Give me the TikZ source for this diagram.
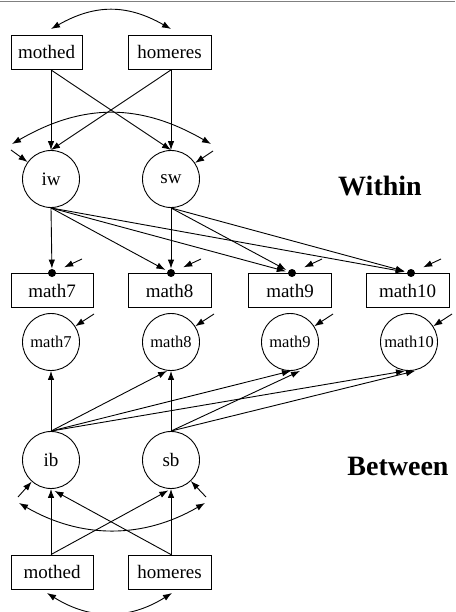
\documentclass[tikz,border=0pt]{standalone}
\usepackage{fontspec}
\setmainfont{Liberation Serif}
\usetikzlibrary{arrows.meta}
\begin{document}
\begin{tikzpicture}[x=1pt, y=-1pt, >={Latex[length=9pt,width=6.5pt]}, line width=0.9pt,
    box/.style={draw, minimum width=82pt, minimum height=34pt, inner sep=0pt, font=\fontsize{19}{22}\selectfont},
    lat/.style={draw, circle, minimum size=57pt, inner sep=0pt, font=\fontsize{19}{22}\selectfont},
    slat/.style={lat, font=\fontsize{16.5}{18}\selectfont},
    dot/.style={circle, fill, inner sep=0pt, minimum size=8pt},
    lvl/.style={font=\bfseries\fontsize{28}{32}\selectfont},
    arr/.style={->}, cov/.style={<->}]
  \useasboundingbox (0,0) rectangle (455,612);
  \draw[gray, line width=1.2pt] (0,1.5) -- (455,1.5);
  \node[box, minimum width=71pt] (mothw) at (46.5,52.5) {mothed};
  \node[box, minimum width=83pt] (homew) at (169.5,52.5) {homeres};
  \node[lat] (iw) at (51,179) {iw};
  \node[lat] (sw) at (171,179) {sw};
  \node[lvl] (within) at (380,186) {Within};
  \node[box] (m7) at (52,290.5) {math7};
  \node[box, minimum width=83pt] (m8) at (169.5,290.5) {math8};
  \node[box, minimum width=83pt] (m9) at (290,290.5) {math9};
  \node[box, minimum width=83pt] (m10) at (407.5,290.5) {math10};
  \node[dot] (d7) at (52,273) {};
  \node[dot] (d8) at (171,273) {};
  \node[dot] (d9) at (292,273) {};
  \node[dot] (d10) at (411,273) {};
  \node[slat] (b7) at (51,342) {math7};
  \node[slat] (b8) at (171,342) {math8};
  \node[slat] (b9) at (290,342) {math9};
  \node[slat] (b10) at (409,342) {math10};
  \node[lat] (ib) at (51,460) {ib};
  \node[lat] (sb) at (171,460) {sb};
  \node[lvl] (between) at (398,466) {Between};
  \node[box] (mothb) at (52,572) {mothed};
  \node[box, minimum width=83pt] (homeb) at (169.5,572) {homeres};
  \coordinate (tl) at (51,29);
  \coordinate (tr) at (171,29);
  \coordinate (cl) at (12,144);
  \coordinate (cr) at (211,144);
  \coordinate (riw) at (11,150);
  \coordinate (rsw) at (213,151);
  \coordinate (r7) at (82,259);
  \coordinate (r8) at (201,259);
  \coordinate (r9) at (322,259);
  \coordinate (r10) at (441,259);
  \coordinate (e7) at (94,314);
  \coordinate (e8) at (214,314);
  \coordinate (e9) at (333,314);
  \coordinate (e10) at (452,314);
  \coordinate (rib) at (18,497);
  \coordinate (rsb) at (206,497);
  \coordinate (bl) at (19,503);
  \coordinate (br) at (205,503);
  \coordinate (ml) at (47,593);
  \coordinate (mr) at (172,593);
  \draw[cov] (tl) .. controls (95,4) and (127,4) .. (tr);
  \draw[arr] (iw |- mothw.south) -- (iw.north);
  \draw[arr] (iw |- mothw.south) -- (sw.north);
  \draw[arr] (sw |- homew.south) -- (iw.north);
  \draw[arr] (sw |- homew.south) -- (sw.north);
  \draw[cov] (cl) .. controls (83,103) and (140,103) .. (cr);
  \draw[arr] (riw) -- (iw);
  \draw[arr] (rsw) -- (sw);
  \draw[arr] (iw.south) -- (d7);
  \draw[arr, shorten >=2pt] (iw.south) -- (d8);
  \draw[arr, shorten >=2pt] (iw.south) -- (d9);
  \draw[arr, shorten >=2pt] (iw.south) -- (d10);
  \draw[arr] (sw.south) -- (d8);
  \draw[arr, shorten >=2pt] (sw.south) -- (d9);
  \draw[arr, shorten >=2pt] (sw.south) -- (d10);
  \draw[arr, shorten >=9pt] (r7) -- (d7);
  \draw[arr, shorten >=9pt] (r8) -- (d8);
  \draw[arr, shorten >=9pt] (r9) -- (d9);
  \draw[arr, shorten >=9pt] (r10) -- (d10);
  \draw[arr] (e7) -- (b7);
  \draw[arr] (e8) -- (b8);
  \draw[arr] (e9) -- (b9);
  \draw[arr] (e10) -- (b10);
  \draw[arr] (ib.north) -- (b7.south);
  \draw[arr] (ib.north) -- ([xshift=-4pt]b8.south);
  \draw[arr] (ib.north) -- ([xshift=1pt]b9.south);
  \draw[arr] (ib.north) -- ([xshift=-4pt]b10.south);
  \draw[arr] (sb.north) -- (b8.south);
  \draw[arr] (sb.north) -- ([xshift=10pt]b9.south);
  \draw[arr] (sb.north) -- ([xshift=6pt]b10.south);
  \draw[arr] (rib) -- (ib);
  \draw[arr] (rsb) -- (sb);
  \draw[cov] (bl) .. controls (81,539) and (143,539) .. (br);
  \draw[arr] (ib |- mothb.north) -- (ib.south);
  \draw[arr, shorten >=3pt] (ib |- mothb.north) -- (sb.south);
  \draw[arr, shorten >=4pt] (sb |- homeb.north) -- (ib.south);
  \draw[arr] (sb |- homeb.north) -- (sb.south);
  \draw[cov] (ml) .. controls (90,620) and (129,620) .. (mr);
\end{tikzpicture}
\end{document}
